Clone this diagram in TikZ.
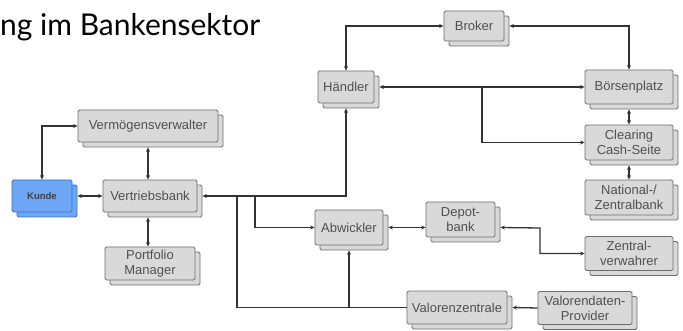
\documentclass[tikz,border=0pt]{standalone}
\usepackage{fontspec}
\setmainfont{Liberation Sans}
\newfontfamily\titlefont{Lato}
\usetikzlibrary{shadows,arrows.meta}
\definecolor{boxfill}{HTML}{D9D9D9}
\definecolor{boxline}{HTML}{6E6E6E}
\definecolor{boxtext}{HTML}{505050}
\definecolor{kundefill}{HTML}{6EA6F7}
\definecolor{kundeline}{HTML}{3D6FC2}
\definecolor{linkcol}{HTML}{333333}
\tikzset{
  doc/.style={rectangle, rounded corners=1.5pt, draw=boxline, fill=boxfill,
    line width=0.8pt, inner sep=0pt, align=center, text=boxtext,
    font=\fontsize{13}{15}\selectfont,
    copy shadow={shadow xshift=5pt, shadow yshift=-5pt, draw=boxline, fill=boxfill}},
  kundedoc/.style={rectangle, rounded corners=1.5pt, draw=kundeline, fill=kundefill,
    line width=0.8pt, inner sep=0pt, align=center, text=black!75,
    font=\fontsize{9.5}{11}\bfseries,
    copy shadow={shadow xshift=5pt, shadow yshift=-5pt, draw=kundeline, fill=kundefill}},
  link/.style={draw=linkcol, line width=1.3pt},
  >={Stealth[length=4.5pt,width=4pt]}
}
\begin{document}
\begin{tikzpicture}[x=1pt,y=-1pt]
\useasboundingbox (0,0) rectangle (683,331);

\node[anchor=base west, inner sep=0pt, font=\titlefont\fontsize{30}{34}\selectfont]
  (title) at (0,36) {ng im Bankensektor};

% document boxes
\node[doc, minimum width=60pt, minimum height=30pt] (br) at (474,26) {Broker};
\node[doc, minimum width=56pt, minimum height=32pt] (h) at (346,87) {Händler};
\node[doc, minimum width=88pt, minimum height=34pt] (bp) at (629,87) {Börsenplatz};
\node[doc, minimum width=88pt, minimum height=35pt] (cl) at (629,142.5) {Clearing\\Cash-Seite};
\node[doc, minimum width=88pt, minimum height=35pt] (nb) at (629,197.5) {National-/\\Zentralbank};
\node[doc, minimum width=88pt, minimum height=34pt] (zv) at (629,253.5) {Zentral-\\verwahrer};
\node[doc, minimum width=68pt, minimum height=35pt] (ab) at (349,227.5) {Abwickler};
\node[doc, minimum width=69pt, minimum height=35pt] (db) at (460.5,219.5) {Depot-\\bank};
\node[doc, minimum width=100pt, minimum height=33pt] (vz) at (457,307.5) {Valorenzentrale};
\node[doc, minimum width=94pt, minimum height=33pt] (vp) at (585,308) {Valorendaten-\\Provider};
\node[doc, minimum width=140pt, minimum height=32pt] (vv) at (148,126) {Vermögensverwalter};
\node[kundedoc, minimum width=60pt, minimum height=32pt] (ku) at (42,196) {Kunde};
\node[doc, minimum width=94pt, minimum height=32pt] (vb) at (150,196) {Vertriebsbank};
\node[doc, minimum width=90pt, minimum height=33pt] (pm) at (150,263.5) {Portfolio\\Manager};

% junctions on the trunk lines
\coordinate (j1) at (255,196);
\coordinate (j2) at (237,196);
\coordinate (j3) at (ab.south |- vz.west);
\coordinate (j4) at (482,87);
\coordinate (j5) at (540,228);

% connectors
\draw[link,<->] (ku.north) |- (vv.west);
\draw[link,<->] ([xshift=5pt]ku.east) -- (vb.west);
\draw[link,<->] ([yshift=-5pt]vv.south) -- (vv.south |- vb.north);
\draw[link,<->] ([yshift=-5pt]vv.south |- vb.south) -- (vv.south |- pm.north);
\draw[link,<->] ([xshift=5pt]vb.east) -| ([yshift=-5pt]h.south);
\draw[link,->] (j1) |- (ab.west);
\draw[link] (j2) |- (vz.west);
\draw[link,->] (j3) -- ([yshift=-5pt]ab.south);
\draw[link,<->] ([xshift=5pt]h.east) -- (bp.west);
\draw[link,->] (j4) |- (cl.west);
\draw[link,<->] (h.north) |- (br.west);
\draw[link,<->] ([xshift=5pt]br.east) -| (bp.north);
\draw[link,<->] ([yshift=-5pt]bp.south) -- (cl.north);
\draw[link,<->] ([yshift=-5pt]cl.south) -- (nb.north);
\draw[link,<->] ([xshift=5pt]ab.east) -- (ab.east -| db.west);
\draw[link,<->] ([xshift=5pt]db.east |- ab.east) -- (j5) |- (zv.west);
\draw[link,->] (vp.west) -- ([xshift=5pt]vz.east);
\end{tikzpicture}
\end{document}
